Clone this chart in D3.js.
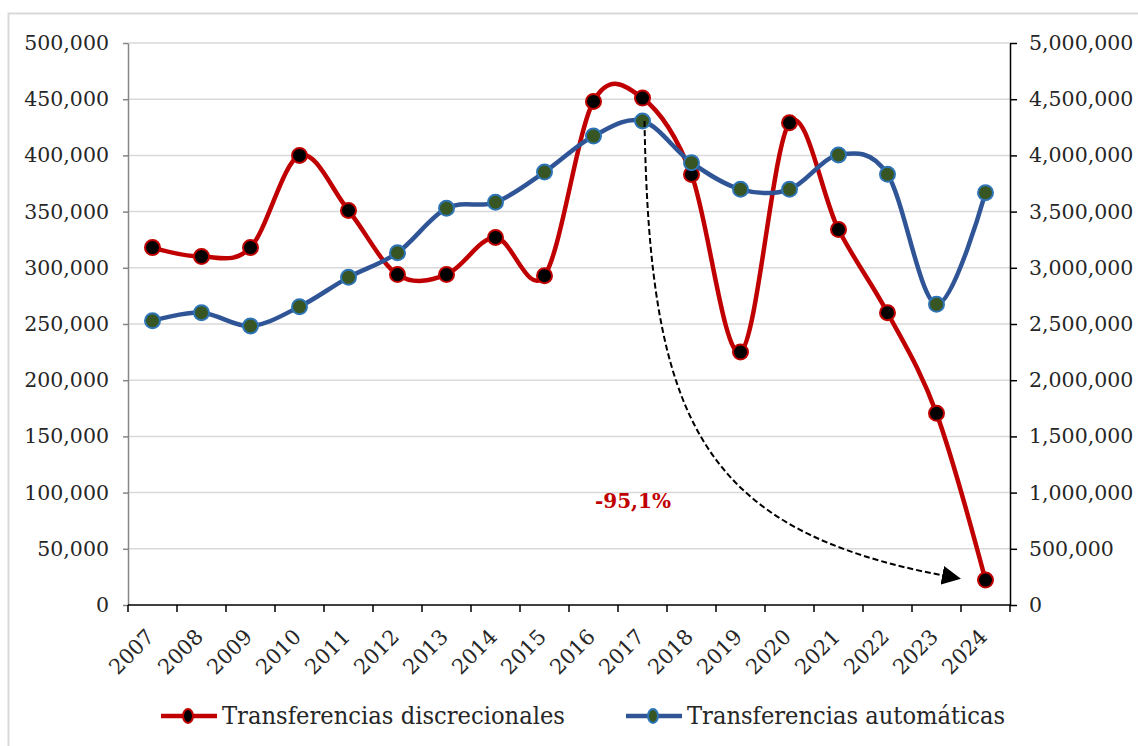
<!DOCTYPE html>
<html lang="es">
<head>
<meta charset="UTF-8">
<title>Transferencias</title>
<script src="https://cdn.jsdelivr.net/npm/d3@7"></script>
<style>
  body { margin: 0; background: #fff; }
  text { font-family: "DejaVu Serif", "Liberation Serif", serif; fill: #262626; }
</style>
</head>
<body>
<svg width="1138" height="746"></svg>
<script>
    // datos
    var years = ['2007', '2008', '2009', '2010', '2011', '2012', '2013', '2014', '2015',
        '2016', '2017', '2018', '2019', '2020', '2021', '2022', '2023', '2024'];
    var discrecionales = [318000, 310000, 318000, 400000, 351000, 294000, 294000, 327000, 293000,
        448000, 451000, 383000, 225000, 429000, 334000, 260000, 170500, 22200];
    var automaticas = [2529000, 2601000, 2482000, 2654000, 2915000, 3134000, 3529000, 3583000, 3852000,
        4172000, 4306000, 3935000, 3698000, 3698000, 4004000, 3832000, 2675000, 3668000];
    var leftTicks = d3.range(0, 500001, 50000);
    var rightTicks = d3.range(0, 5000001, 500000);
    var seriesNames = ['Transferencias discrecionales', 'Transferencias automáticas'];
    var variacion = '-95,1%';

    var svg = d3.select('svg');
    var pLeft = 128, pRight = 1010, pTop = 43, pBottom = 605;

    // marco
    svg.append('rect')
        .attr('x', 8.5).attr('y', 13.5)
        .attr('width', 1140).attr('height', 750)
        .attr('fill', 'none').attr('stroke', '#d9d9d9').attr('stroke-width', 2);

    var x = d3.scaleBand().domain(years).range([pLeft, pRight]);
    var yL = d3.scaleLinear().domain([0, 500000]).range([pBottom, pTop]);
    var yR = d3.scaleLinear().domain([0, 5000000]).range([pBottom, pTop]);
    var fmt = d3.format(',');

    // lineas de cuadricula
    svg.append('g').selectAll('line').data(leftTicks.slice(1)).enter().append('line')
        .attr('x1', pLeft).attr('x2', pRight)
        .attr('y1', function (d) { return yL(d); })
        .attr('y2', function (d) { return yL(d); })
        .attr('stroke', '#d9d9d9').attr('stroke-width', 1.5);

    // eje izquierdo
    var axL = svg.append('g').attr('transform', 'translate(' + pLeft + ',0)')
        .call(d3.axisLeft(yL).tickValues(leftTicks).tickFormat(fmt).tickSize(5).tickSizeOuter(0).tickPadding(14));
    axL.select('.domain').attr('stroke', '#868686').attr('stroke-width', 1.5);
    axL.selectAll('.tick line').attr('stroke', '#868686').attr('stroke-width', 1.5);
    axL.selectAll('text').style('font-size', '20.5px').attr('fill', '#262626');

    // eje derecho
    var axR = svg.append('g').attr('transform', 'translate(' + pRight + ',0)')
        .call(d3.axisRight(yR).tickValues(rightTicks).tickFormat(fmt).tickSize(7).tickSizeOuter(0).tickPadding(12));
    axR.select('.domain').attr('stroke', '#000').attr('stroke-width', 1.5);
    axR.selectAll('.tick line').attr('stroke', '#000').attr('stroke-width', 1.5);
    axR.selectAll('text').style('font-size', '20.5px').attr('fill', '#262626');

    // eje x: marcas entre categorias
    var axX = svg.append('g').attr('transform', 'translate(0,' + pBottom + ')');
    axX.append('line').attr('x1', pLeft).attr('x2', pRight)
        .attr('stroke', '#000').attr('stroke-width', 1.5);
    axX.selectAll('.xt').data(years.concat(['end'])).enter().append('line')
        .attr('class', 'xt')
        .attr('x1', function (d) { return d === 'end' ? pRight : x(d); })
        .attr('x2', function (d) { return d === 'end' ? pRight : x(d); })
        .attr('y1', 0).attr('y2', 7)
        .attr('stroke', '#000').attr('stroke-width', 1.5);
    axX.selectAll('.xl').data(years).enter().append('text')
        .attr('class', 'xl')
        .attr('transform', function (d) {
            return 'translate(' + (x(d) + x.bandwidth() / 2 + 3) + ',33) rotate(-45)';
        })
        .attr('text-anchor', 'end')
        .style('font-size', '21px')
        .text(function (d) { return d; });

    var cx = function (d, i) { return x(years[i]) + x.bandwidth() / 2; };

    // serie discrecionales
    var lineL = d3.line().x(cx).y(function (d) { return yL(d); }).curve(d3.curveCatmullRom.alpha(0));
    svg.append('path').datum(discrecionales)
        .attr('d', lineL).attr('fill', 'none')
        .attr('stroke', '#c00000').attr('stroke-width', 4.5);
    svg.append('g').selectAll('circle').data(discrecionales).enter().append('circle')
        .attr('cx', cx).attr('cy', function (d) { return yL(d); }).attr('r', 7.5)
        .attr('fill', '#000').attr('stroke', '#c00000').attr('stroke-width', 2);

    // serie automaticas
    var lineR = d3.line().x(cx).y(function (d) { return yR(d); }).curve(d3.curveCatmullRom.alpha(0));
    svg.append('path').datum(automaticas)
        .attr('d', lineR).attr('fill', 'none')
        .attr('stroke', '#2f5597').attr('stroke-width', 4.5);
    svg.append('g').selectAll('circle').data(automaticas).enter().append('circle')
        .attr('cx', cx).attr('cy', function (d) { return yR(d); }).attr('r', 7.5)
        .attr('fill', '#375623').attr('stroke', '#2e75b6').attr('stroke-width', 2);

    // flecha
    svg.append('defs').append('marker')
        .attr('id', 'arr').attr('viewBox', '0 0 10 10')
        .attr('refX', 2).attr('refY', 5)
        .attr('markerWidth', 19).attr('markerHeight', 19)
        .attr('markerUnits', 'userSpaceOnUse')
        .attr('orient', 'auto')
        .append('path').attr('d', 'M0,0 L10,5 L0,10 Z').attr('fill', '#000');
    var i17 = years.indexOf('2017');
    var x0 = cx(0, i17) + 2, y0 = yR(automaticas[i17]);
    svg.append('path')
        .attr('d', 'M' + x0 + ',' + y0 + ' C' + (x0 + 5) + ',420 ' + 700 + ',530 ' + 946 + ',576')
        .attr('fill', 'none').attr('stroke', '#000').attr('stroke-width', 2)
        .attr('stroke-dasharray', '6,3')
        .attr('marker-end', 'url(#arr)');

    svg.append('text')
        .attr('x', 633).attr('y', 508)
        .attr('text-anchor', 'middle')
        .style('font-size', '20px').style('font-weight', 'bold')
        .style('fill', '#c00000')
        .text(variacion);

    // leyenda
    var legend = [
        { name: seriesNames[0], x: 161, line: '#c00000', fill: '#000', stroke: '#c00000', w: 343 },
        { name: seriesNames[1], x: 626, line: '#2f5597', fill: '#375623', stroke: '#2e75b6', w: 318 }
    ];
    var lg = svg.append('g').selectAll('g').data(legend).enter().append('g')
        .attr('transform', function (d) { return 'translate(' + d.x + ',716)'; });
    lg.append('line').attr('x1', 0).attr('x2', 56)
        .attr('stroke', function (d) { return d.line; }).attr('stroke-width', 4.5);
    lg.append('ellipse').attr('cx', 27).attr('rx', 5).attr('ry', 7)
        .attr('fill', function (d) { return d.fill; })
        .attr('stroke', function (d) { return d.stroke; }).attr('stroke-width', 2);
    lg.append('text').attr('x', 61).attr('y', 8)
        .style('font-size', '24px')
        .attr('textLength', function (d) { return d.w; })
        .attr('lengthAdjust', 'spacingAndGlyphs')
        .text(function (d) { return d.name; });
</script>
</body>
</html>
